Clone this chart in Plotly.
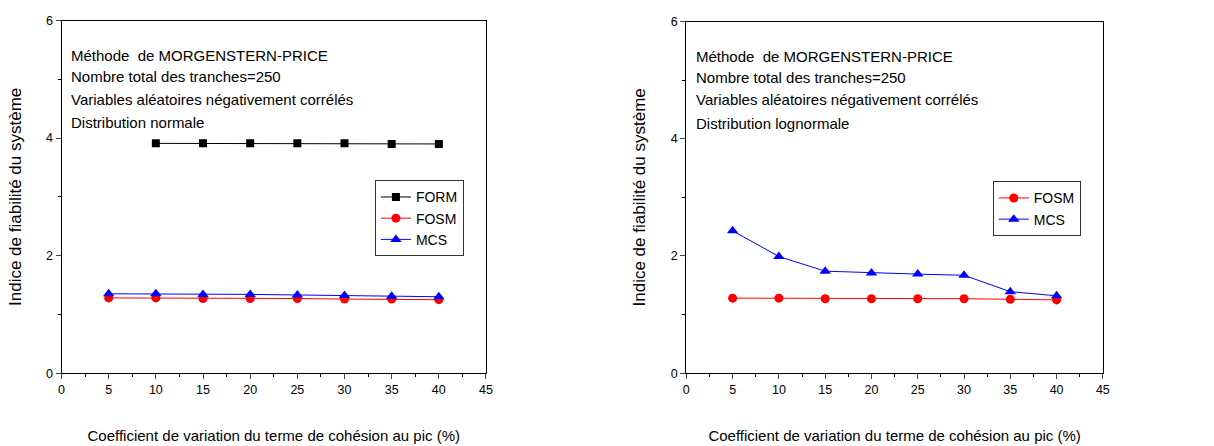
import plotly.graph_objects as go

x_vals = [5, 10, 15, 20, 25, 30, 35, 40]
x_form = [10, 15, 20, 25, 30, 35, 40]

left_form = [3.91, 3.91, 3.91, 3.91, 3.91, 3.90, 3.90]
left_fosm = [1.28, 1.28, 1.27, 1.27, 1.27, 1.26, 1.26, 1.25]
left_mcs = [1.35, 1.35, 1.34, 1.34, 1.33, 1.32, 1.31, 1.30]

right_fosm = [1.28, 1.28, 1.27, 1.27, 1.27, 1.27, 1.26, 1.25]
right_mcs = [2.43, 1.99, 1.74, 1.71, 1.69, 1.67, 1.39, 1.32]

left_notes = ["Méthode  de MORGENSTERN-PRICE", "Nombre total des tranches=250",
              "Variables aléatoires négativement corrélés", "Distribution normale"]
right_notes = ["Méthode  de MORGENSTERN-PRICE", "Nombre total des tranches=250",
               "Variables aléatoires négativement corrélés", "Distribution lognormale"]

x_title = "Coefficient de variation du terme de cohésion au pic (%)"
y_title = "Indice de fiabilité du système"

W, H = 1214, 446
FONT = "Arial, Liberation Sans, sans-serif"

fig = go.Figure()

def add(x, y, name, color, symbol, size, xa, ya, legend):
    fig.add_trace(go.Scatter(x=x, y=y, name=name, mode="lines+markers",
                             line=dict(color=color, width=1),
                             marker=dict(color=color, symbol=symbol, size=size),
                             xaxis=xa, yaxis=ya, legend=legend))

add(x_form, left_form, "FORM", "black", "square", 8, "x", "y", "legend")
add(x_vals, left_fosm, "FOSM", "red", "circle", 9, "x", "y", "legend")
add(x_vals, left_mcs, "MCS", "blue", "triangle-up", 10, "x", "y", "legend")
add(x_vals, right_fosm, "FOSM", "red", "circle", 9, "x2", "y2", "legend2")
add(x_vals, right_mcs, "MCS", "blue", "triangle-up", 10, "x2", "y2", "legend2")

def xaxis(domain, anchor):
    return dict(domain=domain, anchor=anchor, range=[0, 45], tickmode="array",
                tickvals=list(range(0, 46, 5)), ticks="outside", ticklen=5,
                showline=True, linecolor="black", linewidth=1, mirror=True,
                showgrid=False, zeroline=False,
                minor=dict(ticks="outside", ticklen=3, dtick=2.5, tick0=0, tickcolor="black"),
                tickfont=dict(size=12.5, color="black", family=FONT),
                title=dict(text=x_title, font=dict(size=15, color="black", family=FONT), standoff=34))

def yaxis(domain, anchor):
    return dict(domain=domain, anchor=anchor, range=[0, 6], tickmode="array",
                tickvals=[0, 2, 4, 6], ticks="outside", ticklen=5,
                showline=True, linecolor="black", linewidth=1, mirror=True,
                showgrid=False, zeroline=False,
                minor=dict(ticks="outside", ticklen=3, dtick=1, tick0=0, tickcolor="black"),
                tickfont=dict(size=12.5, color="black", family=FONT),
                title=dict(text=y_title, font=dict(size=17, color="black", family=FONT), standoff=20))

fig.update_layout(
    width=W, height=H, margin=dict(l=0, r=0, t=0, b=0),
    paper_bgcolor="white", plot_bgcolor="white",
    font=dict(family=FONT, color="black"),
    xaxis=xaxis([59 / W, 487 / W], "y"),
    yaxis=yaxis([1 - 378 / H, 1 - 14 / H], "x"),
    xaxis2=xaxis([689 / W, 1109 / W], "y2"),
    yaxis2=yaxis([1 - 378 / H, 1 - 15 / H], "x2"),
    legend=dict(x=375 / W, y=1 - 179 / H, xanchor="left", yanchor="top",
                bordercolor="#333", borderwidth=1, bgcolor="white",
                font=dict(size=14, color="black", family=FONT), tracegroupgap=0,
                itemwidth=30),
    legend2=dict(x=998 / W, y=1 - 180 / H, xanchor="left", yanchor="top",
                 bordercolor="#333", borderwidth=1, bgcolor="white",
                 font=dict(size=14, color="black", family=FONT), tracegroupgap=0,
                 itemwidth=30),
    showlegend=True,
)

ys = [50, 72, 95, 119]
for i, t in enumerate(left_notes):
    fig.add_annotation(text=t, xref="paper", yref="paper", x=67 / W, y=1 - ys[i] / H,
                       xanchor="left", yanchor="middle", showarrow=False,
                       font=dict(size=15, color="black", family=FONT))
for i, t in enumerate(right_notes):
    fig.add_annotation(text=t, xref="paper", yref="paper", x=697 / W, y=1 - (ys[i] + 1) / H,
                       xanchor="left", yanchor="middle", showarrow=False,
                       font=dict(size=15, color="black", family=FONT))

fig.write_html("out.html")
